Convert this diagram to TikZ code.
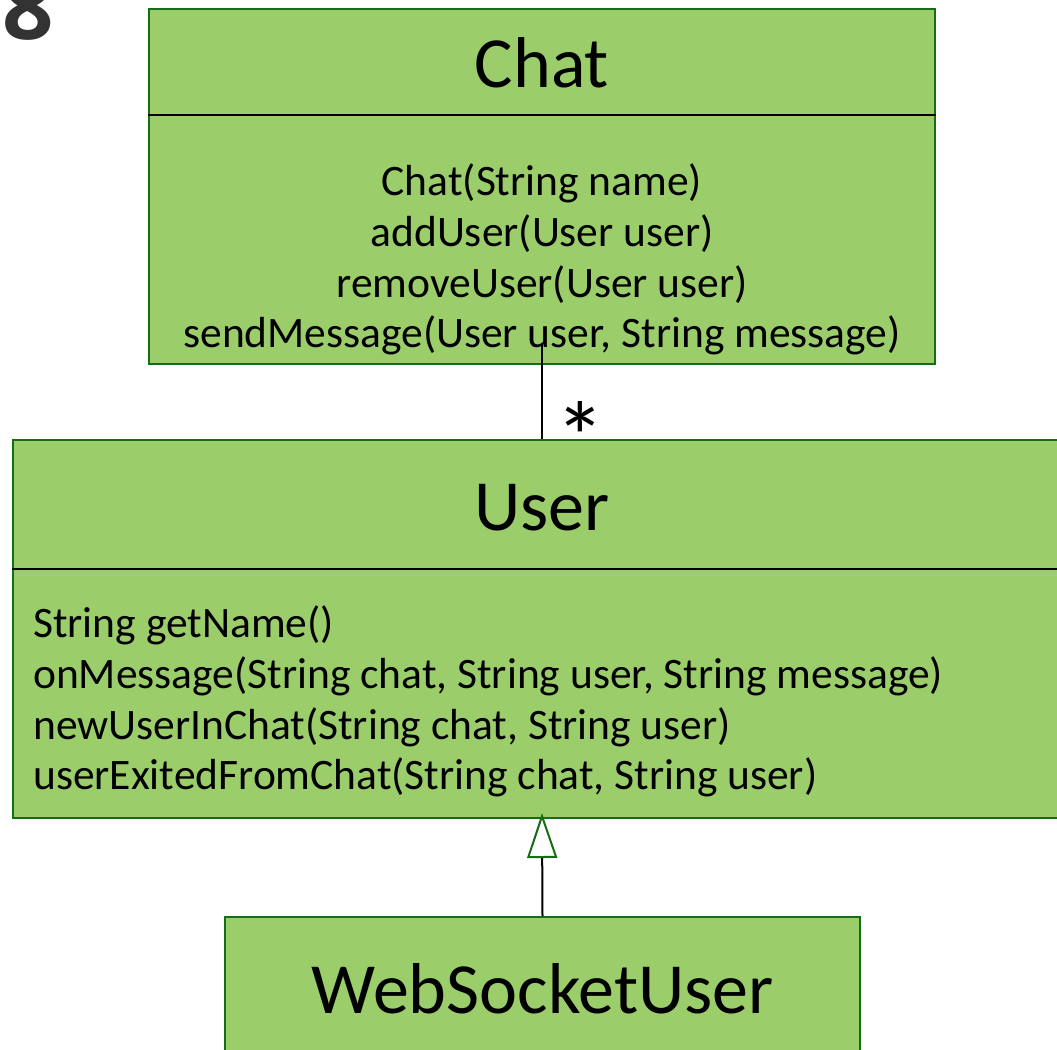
\documentclass[tikz,border=0pt]{standalone}
\usepackage{fontspec}
\setmainfont{Carlito}
\newfontfamily\digitfont{Open Sans}
\usetikzlibrary{arrows.meta}
\definecolor{boxfill}{RGB}{155,205,106}
\definecolor{boxline}{RGB}{20,110,20}
\definecolor{digitgray}{RGB}{51,51,51}
\tikzset{
  classbox/.style={draw=boxline, fill=boxfill, line width=2pt, inner sep=0pt, rectangle},
  divider/.style={draw=black, line width=2pt},
  titletext/.style={inner sep=0pt, anchor=base, font=\fontsize{72}{86}\selectfont},
  methtext/.style={inner sep=0pt, anchor=base, font=\fontsize{43.5}{52}\selectfont},
  link/.style={draw=black, line width=2pt},
}
\begin{document}
\begin{tikzpicture}[x=1pt,y=-1pt]
\useasboundingbox (0,0) rectangle (1057,1049);
\clip (0,0) rectangle (1057,1049);
\fill[white] (0,0) rectangle (1057,1049);

% the digit at top left
\node[inner sep=0pt, anchor=base west, text=digitgray, font=\digitfont\bfseries\fontsize{90}{100}\selectfont] (digit) at (2,40) {8};

% boxes
\node[classbox, minimum width=786pt, minimum height=355pt] (chat) at (542,186.5) {};
\node[classbox, minimum width=1058pt, minimum height=378pt] (user) at (542,629) {};
\node[classbox, minimum width=635pt, minimum height=152pt] (web) at (542.5,993) {};

% dividers
\coordinate (chatdiv) at (0,115);
\coordinate (userdiv) at (0,569);
\draw[divider] (chat.west |- chatdiv) -- (chat.east |- chatdiv);
\draw[divider] (user.west |- userdiv) -- (user.east |- userdiv);

% titles
\node[titletext] (chatname) at (542,88) {Chat};
\node[titletext] (username) at (542,530) {User};
\node[titletext] (webname) at (542.5,1013) {WebSocketUser};

% Chat methods
\node[methtext] (c1) at (542,195) {Chat(String name)};
\node[methtext] (c2) at (542,246) {addUser(User user)};
\node[methtext] (c3) at (542,297) {removeUser(User user)};
\node[methtext] (c4) at (542,347) {sendMessage(User user, String message)};

% User methods
\node[methtext, anchor=base west] (u1) at (33,637) {String getName()};
\node[methtext, anchor=base west] (u2) at (33,688) {onMessage(String chat, String user, String message)};
\node[methtext, anchor=base west] (u3) at (33,739) {newUserInChat(String chat, String user)};
\node[methtext, anchor=base west] (u4) at (33,789) {userExitedFromChat(String chat, String user)};

% association
\coordinate (chatlink) at (542,343);
\draw[link] (chatlink) -- (user.north);
\node[inner sep=0pt, anchor=base, font=\fontsize{100}{110}\selectfont] (mult) at (580,433) {\raisebox{-39pt}[28pt][0pt]{*}};

% generalization
\draw[link, shorten >=-6pt, -{Triangle[length=45pt, width=30pt, color=boxline, fill=white, line width=2pt]}] (web.north) -- (user.south);
\end{tikzpicture}
\end{document}
